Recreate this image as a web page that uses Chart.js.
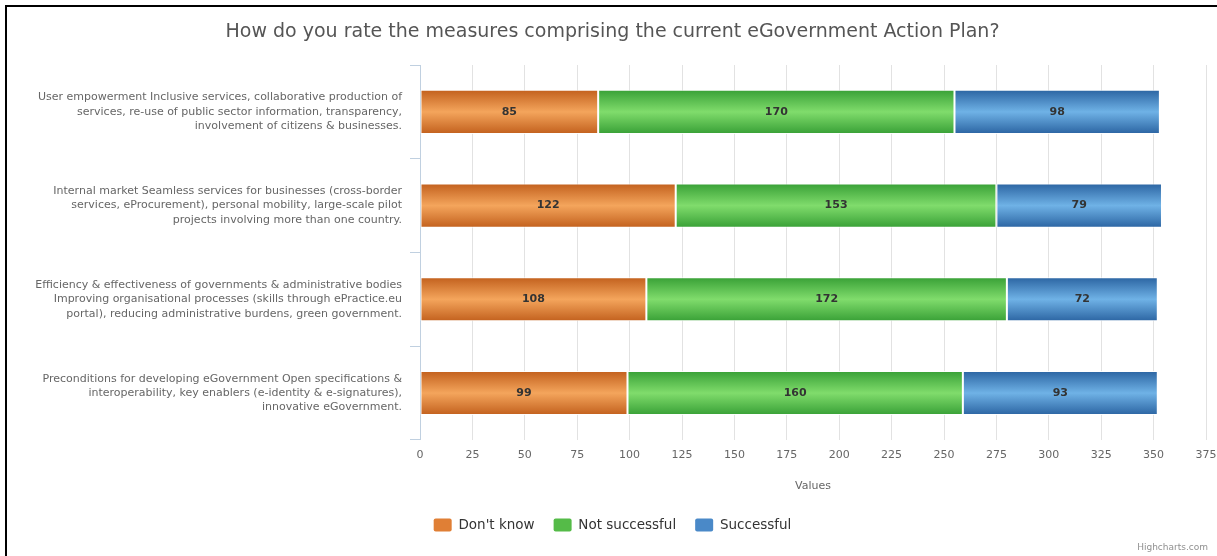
<!DOCTYPE html>
<html><head><meta charset="utf-8">
<script src="https://cdn.jsdelivr.net/npm/chart.js@4.4.1/dist/chart.umd.min.js"></script>
<style>
html,body{margin:0;padding:0;background:#fff;overflow:hidden;width:1217px;height:556px;}
#frame{position:absolute;left:5px;top:5px;width:1300px;height:700px;border-left:2px solid #000;border-top:2px solid #000;}
#wrap{position:absolute;left:0;top:0;width:1217px;height:556px;}
</style></head><body>
<div id="frame"></div>
<div id="wrap"><canvas id="c" width="1217" height="556"></canvas></div>
<script>
const chartTitle = "How do you rate the measures comprising the current eGovernment Action Plan?";
const categories = [
  ["User empowerment Inclusive services, collaborative production of", "services, re-use of public sector information, transparency,", "involvement of citizens & businesses."],
  ["Internal market Seamless services for businesses (cross-border", "services, eProcurement), personal mobility, large-scale pilot", "projects involving more than one country."],
  ["Efficiency & effectiveness of governments & administrative bodies", "Improving organisational processes (skills through ePractice.eu", "portal), reducing administrative burdens, green government."],
  ["Preconditions for developing eGovernment Open specifications &", "interoperability, key enablers (e-identity & e-signatures),", "innovative eGovernment."]
];
const seriesNames = ["Don't know", "Not successful", "Successful"];
const dontKnow = [85, 122, 108, 99];
const notSuccessful = [170, 153, 172, 160];
const successful = [98, 79, 72, 93];
const xTicks = [0, 25, 50, 75, 100, 125, 150, 175, 200, 225, 250, 275, 300, 325, 350, 375];
const xAxisTitle = "Values";
const creditText = "Highcharts.com";

const FONT = '"DejaVu Sans", Verdana, sans-serif';
const palette = [
  {edge: '#c2601d', mid: '#f4a55c', solid: '#e07f35'},
  {edge: '#38a036', mid: '#80dc6c', solid: '#55bb48'},
  {edge: '#2b64a2', mid: '#6fb2e6', solid: '#4a89c8'}
];
const BAR_PCT = 0.47;
const PAD_LEFT = 19;

function barFill(ctx) {
  const p = palette[ctx.datasetIndex] || palette[0];
  const chart = ctx.chart;
  if (ctx.type !== 'data' || !chart.scales || !chart.scales.y) return p.solid;
  const y = chart.scales.y;
  const cy = y.getPixelForValue(ctx.dataIndex);
  const band = Math.abs(y.getPixelForValue(1) - y.getPixelForValue(0));
  if (!isFinite(cy) || !isFinite(band) || band === 0) return p.solid;
  const half = band * BAR_PCT / 2;
  const g = chart.ctx.createLinearGradient(0, cy - half, 0, cy + half);
  g.addColorStop(0, p.edge);
  g.addColorStop(0.5, p.mid);
  g.addColorStop(1, p.edge);
  return g;
}

const dataLabels = {
  id: 'dataLabels',
  afterDatasetsDraw(chart) {
    const ctx = chart.ctx;
    ctx.save();
    ctx.font = 'bold 11px ' + FONT;
    ctx.fillStyle = '#333';
    ctx.textAlign = 'center';
    ctx.textBaseline = 'middle';
    chart.data.datasets.forEach((ds, i) => {
      const meta = chart.getDatasetMeta(i);
      meta.data.forEach((bar, j) => {
        const pr = bar.getProps(['x', 'y', 'base'], true);
        ctx.fillText(String(ds.data[j]), (pr.x + pr.base) / 2, pr.y);
      });
    });
    ctx.restore();
  }
};

const credits = {
  id: 'credits',
  afterDraw(chart) {
    const ctx = chart.ctx;
    ctx.save();
    ctx.font = '9px ' + FONT;
    ctx.fillStyle = '#909090';
    ctx.textAlign = 'right';
    ctx.textBaseline = 'middle';
    ctx.fillText(creditText, chart.width - 9, chart.height - 8);
    ctx.restore();
  }
};

const seriesData = [dontKnow, notSuccessful, successful];

new Chart(document.getElementById('c'), {
  type: 'bar',
  data: {
    labels: categories,
    datasets: seriesNames.map((name, i) => ({
      label: name,
      data: seriesData[i],
      backgroundColor: barFill,
      borderColor: 'rgba(255,255,255,0.85)',
      borderWidth: 1,
      borderSkipped: false,
      barPercentage: BAR_PCT,
      categoryPercentage: 1
    }))
  },
  options: {
    indexAxis: 'y',
    responsive: false,
    animation: false,
    events: [],
    layout: {padding: {left: PAD_LEFT, right: 11, top: 0, bottom: 14.25}},
    scales: {
      x: {
        stacked: true,
        min: 0, max: 375,
        afterBuildTicks(scale) { scale.ticks = xTicks.map(v => ({value: v})); },
        afterFit(scale) { scale.paddingLeft = 0; scale.paddingRight = 0; },
        ticks: {
          autoSkip: false, maxRotation: 0, padding: 9,
          color: '#666', font: {family: FONT, size: 11, lineHeight: 1.15},
          callback: v => String(v)
        },
        grid: {color: '#e2e2e2', drawTicks: false, lineWidth: 1},
        border: {display: false},
        title: {
          display: true, text: xAxisTitle, color: '#666',
          font: {family: FONT, size: 11},
          padding: {top: 8.8, bottom: 6.65}
        }
      },
      y: {
        stacked: true,
        afterFit(scale) { scale.width = 420 - PAD_LEFT; scale.paddingTop = 0; scale.paddingBottom = 0; },
        ticks: {
          color: '#666', padding: 8,
          font: {family: FONT, size: 11, lineHeight: 1.3}
        },
        grid: {drawOnChartArea: false, drawTicks: true, tickLength: 10, color: '#C0D0E0', offset: true},
        border: {display: true, color: '#C0D0E0'}
      }
    },
    plugins: {
      title: {
        display: true, text: chartTitle, color: '#555',
        font: {family: FONT, size: 19, weight: 'normal', lineHeight: 1.2},
        padding: {top: 20.6, bottom: 21.6}
      },
      legend: {
        position: 'bottom',
        labels: {
          boxWidth: 18, boxHeight: 13, padding: 19,
          color: '#333', font: {family: FONT, size: 13.5},
          useBorderRadius: true, borderRadius: 2,
          generateLabels(chart) {
            const items = Chart.defaults.plugins.legend.labels.generateLabels(chart);
            return items.map((it, i) => Object.assign(it, {
              fillStyle: palette[i].solid, strokeStyle: palette[i].solid, lineWidth: 0
            }));
          }
        }
      },
      tooltip: {enabled: false}
    }
  },
  plugins: [dataLabels, credits]
});
</script>
</body></html>
